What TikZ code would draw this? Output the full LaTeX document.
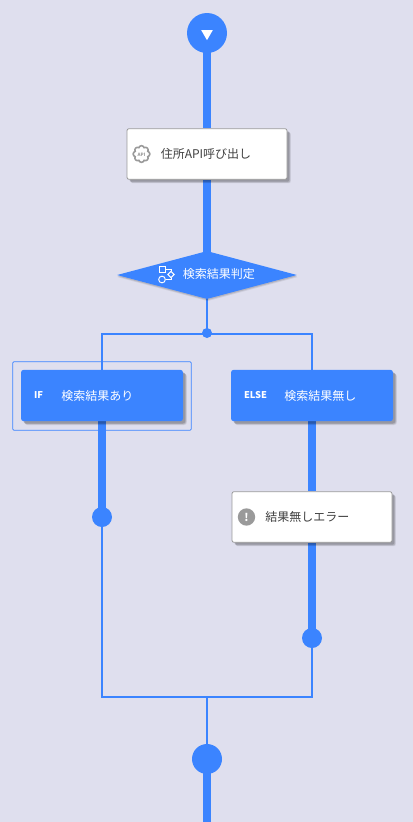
\documentclass[tikz,border=0pt]{standalone}
\usepackage{fontspec}
\setmainfont{Noto Sans CJK JP}
\usetikzlibrary{shapes.geometric,shapes.symbols,shadows,backgrounds}
\definecolor{flowblue}{HTML}{3B84FF}
\definecolor{canvas}{HTML}{DFDFEE}
\definecolor{icongray}{HTML}{9A9A9A}
\begin{document}
\begin{tikzpicture}[
    x=0.75pt, y=-0.75pt,
    softshadow/.style={
        drop shadow={shadow xshift=2.9pt, shadow yshift=-2.9pt, fill=black, opacity=0.08},
        drop shadow={shadow xshift=2.4pt, shadow yshift=-2.4pt, fill=black, opacity=0.12},
        drop shadow={shadow xshift=1.8pt, shadow yshift=-1.8pt, fill=black, opacity=0.16}},
    task/.style={rectangle, draw=icongray, line width=0.6pt, fill=white, rounded corners=1.5pt, minimum width=120pt, minimum height=38pt, inner sep=0pt, softshadow},
    branch/.style={rectangle, fill=flowblue, rounded corners=2pt, minimum width=121.5pt, minimum height=38.5pt, inner sep=0pt, softshadow},
    decision/.style={diamond, fill=flowblue, minimum width=135pt, minimum height=36pt, inner sep=0pt,
        drop shadow={shadow xshift=0.4pt, shadow yshift=-1.6pt, fill=black, opacity=0.08},
        drop shadow={shadow xshift=0.2pt, shadow yshift=-0.9pt, fill=black, opacity=0.12}},
    dot/.style={circle, fill=flowblue, inner sep=0pt},
    label/.style={anchor=west, inner sep=0pt, font=\fontsize{9}{10}\selectfont},
    tag/.style={inner sep=0pt, text=white, font=\fontsize{7}{8}\selectfont\bfseries},
    thick flow/.style={draw=flowblue, line width=6pt},
    thin flow/.style={draw=flowblue, line width=1.5pt},
    stub flow/.style={draw=flowblue, line width=1.25pt}
]
    \useasboundingbox (0,0) rectangle (413,822);

    % Start and API call
    \node[dot, minimum size=30pt] (start) at (207,33) {};
    \node[regular polygon, regular polygon sides=3, shape border rotate=180, fill=white, minimum size=10pt, inner sep=0pt] (arrowmark) at (207,33.5) {};
    \node[task] (api) at (207,154) {};
    \node[cloud, cloud puffs=8, cloud puff arc=150, aspect=1, draw=icongray, line width=1.2pt, minimum size=12.5pt, inner sep=0pt] (apiicon) at (141.5,154) {};
    \node[inner sep=0pt, text=icongray, font=\fontsize{3.4}{4}\selectfont\bfseries] (apitag) at (141.5,154.5) {API};
    \node[label, text=black!75] (apilabel) at (160.5,154) {住所API呼び出し};

    % Decision
    \node[decision] (judge) at (207,275) {};
    \node[rectangle, draw=white, line width=0.7pt, minimum size=4.5pt, inner sep=0pt] (flowsquare) at (162.5,269.5) {};
    \node[diamond, draw=white, line width=0.7pt, minimum size=5pt, inner sep=0pt] (flowdiamond) at (171,274.5) {};
    \node[circle, draw=white, line width=0.7pt, minimum size=5pt, inner sep=0pt] (flowcircle) at (162,279.5) {};
    \draw[white, line width=0.7pt] (flowsquare) -| (flowdiamond);
    \draw[white, line width=0.7pt] (flowcircle) -| (flowdiamond);
    \node[label, text=white] (judgelabel) at (182.5,274) {検索結果判定};
    \node[dot, minimum size=7.5pt] (split) at (207,333) {};

    % IF branch
    \node[rectangle, draw=flowblue, line width=0.6pt, rounded corners=1pt, minimum width=134pt, minimum height=51.5pt, inner sep=0pt] (selected) at (102,396) {};
    \node[branch] (ifbox) at (102,395.5) {};
    \node[tag] (iftag) at (38.5,395.5) {IF};
    \node[label, text=white] (iflabel) at (61,395.5) {検索結果あり};
    \node[dot, minimum size=15pt] (ifdot) at (102,517) {};

    % ELSE branch
    \node[branch] (elsebox) at (312,395.5) {};
    \node[tag] (elsetag) at (255.5,395.5) {ELSE};
    \node[label, text=white] (elselabel) at (284,395.5) {検索結果無し};
    \node[task] (error) at (312,517) {};
    \node[circle, fill=icongray, minimum size=13pt, inner sep=0pt, text=white, font=\fontsize{8}{8}\selectfont\bfseries] (erroricon) at (246.5,517) {!};
    \node[label, text=black!75] (errorlabel) at (265,517) {結果無しエラー};
    \node[dot, minimum size=15pt] (elsedot) at (312,638) {};

    % Merge
    \node[dot, minimum size=22.5pt] (merge) at (207,759) {};

    \coordinate (topleft) at (102,334);
    \coordinate (topright) at (312,334);
    \coordinate (bottomleft) at (102,697);
    \coordinate (bottomright) at (312,697);
    \coordinate (bottommid) at (207,697);
    \coordinate (exit) at (207,822);

    \begin{pgfonlayer}{background}
        \fill[canvas] (0,0) rectangle (413,822);

        % Thick main line
        \draw[thick flow] (start.center) -- (api);
        \draw[thick flow] (api) -- (judge.center);
        \draw[thick flow] (ifbox) -- (ifdot.center);
        \draw[thick flow] (elsebox) -- (error);
        \draw[thick flow] (error) -- (elsedot.center);
        \draw[thick flow] (merge.center) -- (exit);

        % Thin branch frame
        \draw[stub flow] (judge.center) -- (split.center);
        \draw[thin flow, line join=miter] (ifbox) -- (topleft) -- (topright) -- (elsebox);
        \draw[thin flow, line join=miter] (ifdot.center) -- (bottomleft) -- (bottomright) -- (elsedot.center);
        \draw[stub flow] (bottommid) -- (merge.center);
    \end{pgfonlayer}
\end{tikzpicture}
\end{document}
